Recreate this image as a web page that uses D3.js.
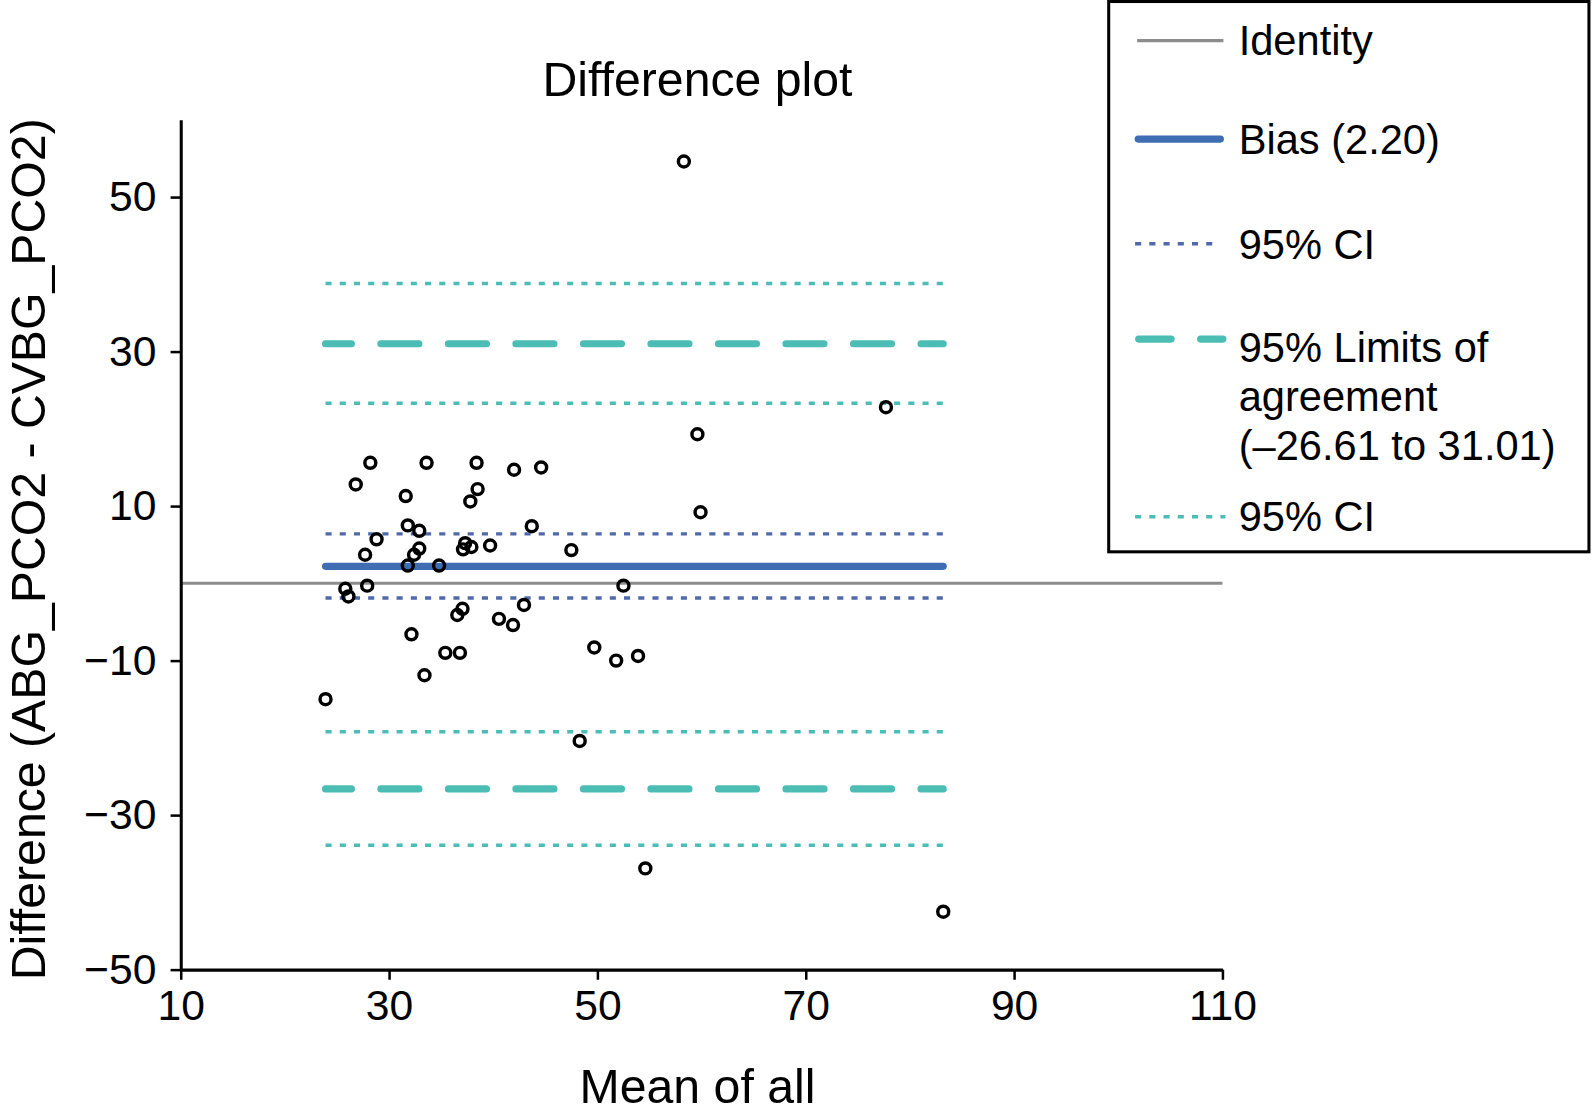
<!DOCTYPE html>
<html>
<head>
<meta charset="utf-8">
<script src="https://cdn.jsdelivr.net/npm/d3@7"></script>
<style>
  html, body { margin: 0; padding: 0; background: #fff; }
  svg text { font-family: "Liberation Sans", Arial, Helvetica, sans-serif; fill: #000; }
</style>
</head>
<body>
<svg id="chart" width="1592" height="1115"></svg>
<script>
// ---- data ----
const meanOfAll = [
  28.2, 33.6, 38.4, 42.0, 44.6, 26.8, 31.6, 38.5, 37.8, 31.8,
  32.9, 43.7, 28.8, 27.7, 32.9, 32.4, 31.8, 34.8, 37.3, 37.1,
  37.9, 39.7, 25.8, 27.9, 26.1, 47.5, 52.5, 37.05, 36.55, 42.95,
  40.55, 41.9, 32.15, 35.4, 36.8, 33.4, 49.7, 51.8, 53.9, 23.9,
  48.3, 54.6, 83.2, 58.3, 77.7, 59.6, 59.9
];
const difference = [
  15.6, 15.6, 15.6, 14.7, 15.0, 12.8, 11.3, 12.2, 10.6, 7.5,
  6.8, 7.4, 5.7, 3.7, 4.5, 3.7, 2.3, 2.3, 5.2, 4.4,
  4.7, 4.9, -0.7, -0.3, -1.7, 4.3, -0.3, -3.3, -4.1, -2.8,
  -4.6, -5.4, -6.6, -9.0, -9.0, -11.9, -8.3, -10.0, -9.4, -15.0,
  -20.4, -36.9, -42.5, 54.6, 22.8, 19.3, 9.2
];
const bias = 2.20;
const biasCI = [6.4, -1.9];
const limitsOfAgreement = [31.01, -26.61];
const limitsCI = [38.8, 23.3, -19.2, -33.9];
const xTicks = [10, 30, 50, 70, 90, 110];
const yTicks = [-50, -30, -10, 10, 30, 50];
const titleText = "Difference plot";
const xLabel = "Mean of all";
const yLabel = "Difference (ABG_PCO2 - CVBG_PCO2)";
const legendItems = [
  { key: "identity", lines: ["Identity"] },
  { key: "bias", lines: ["Bias (2.20)"] },
  { key: "biasCI", lines: ["95% CI"] },
  { key: "loa", lines: ["95% Limits of", "agreement", "(\u201326.61 to 31.01)"] },
  { key: "loaCI", lines: ["95% CI"] }
];

// ---- styles ----
const styles = {
  identity: { stroke: "#8c8c8c", width: 3, dash: null, cap: "butt" },
  bias: { stroke: "#3f6db3", width: 7, dash: null, cap: "round" },
  biasCI: { stroke: "#5168aa", width: 3.4, dash: "6,8", cap: "butt" },
  loa: { stroke: "#4bbdb5", width: 7, dash: "37.5,29", cap: "round" },
  loaCI: { stroke: "#4bbdb5", width: 3.4, dash: "6,8", cap: "butt" }
};

const root = d3.select("#chart");
const svg = root.append("g").attr("transform", "scale(1.0153)");
const x = d3.scaleLinear().domain([10, 110]).range([178, 1204]);
const y = d3.scaleLinear().domain([-50, 60]).range([955, 118]);

const xMin = d3.min(meanOfAll), xMax = d3.max(meanOfAll);

function hline(val, x0, x1, st) {
  const l = svg.append("line")
    .attr("x1", x(x0)).attr("x2", x(x1))
    .attr("y1", y(val)).attr("y2", y(val))
    .attr("stroke", st.stroke).attr("stroke-width", st.width)
    .attr("stroke-linecap", st.cap).attr("fill", "none");
  if (st.dash) l.attr("stroke-dasharray", st.dash);
  return l;
}

// identity line
hline(0, 10, 110, styles.identity);
// limits CI (dotted teal)
limitsCI.forEach(v => hline(v, xMin, xMax, styles.loaCI));
// limits of agreement (dashed teal)
limitsOfAgreement.forEach(v => hline(v, xMin, xMax, styles.loa).attr("stroke-dashoffset", 12));
// bias CI (dotted blue)
biasCI.forEach(v => hline(v, xMin, xMax, styles.biasCI));
// bias
hline(bias, xMin, xMax, styles.bias);

// points
svg.append("g").selectAll("circle")
  .data(meanOfAll.map((m, i) => [m, difference[i]]))
  .join("circle")
  .attr("cx", d => x(d[0])).attr("cy", d => y(d[1]))
  .attr("r", 5.4).attr("fill", "none")
  .attr("stroke", "#000").attr("stroke-width", 3.4);

// axes
const xAxis = svg.append("g").attr("transform", "translate(0,955)")
  .call(d3.axisBottom(x).tickValues(xTicks).tickSize(10).tickPadding(10).tickSizeOuter(0));
const yAxis = svg.append("g").attr("transform", "translate(178,0)")
  .call(d3.axisLeft(y).tickValues(yTicks).tickSize(10).tickPadding(14).tickSizeOuter(0));
[xAxis, yAxis].forEach(g => {
  g.select(".domain").attr("stroke", "#000").attr("stroke-width", 3);
  g.selectAll(".tick line").attr("stroke", "#000").attr("stroke-width", 2.5);
  g.selectAll(".tick text").attr("font-size", 42)
    .attr("font-family", "'Liberation Sans', Arial, sans-serif").attr("fill", "#000");
});

// title and labels
svg.append("text").attr("x", 687).attr("y", 95).attr("text-anchor", "middle")
  .attr("font-size", 47.5).text(titleText);
svg.append("text").attr("x", 687).attr("y", 1086).attr("text-anchor", "middle")
  .attr("font-size", 47.5).text(xLabel);
svg.append("text").attr("transform", "translate(44,541) rotate(-90)")
  .attr("text-anchor", "middle").attr("font-size", 47.5).text(yLabel);

// legend
const lg = svg.append("g");
lg.append("rect").attr("x", 1092).attr("y", 1.5).attr("width", 473).attr("height", 542)
  .attr("fill", "#fff").attr("stroke", "#000").attr("stroke-width", 3);
const symY = [40, 137, 240, 334, 509];
const textY = [[54], [152], [255], [357, 405, 453], [523]];
const symX = { identity: [1120, 1205], bias: [1121, 1202], biasCI: [1118, 1197], loa: [1121.5, 1204.5], loaCI: [1118, 1207] };
legendItems.forEach((it, i) => {
  const st = styles[it.key];
  const sx = symX[it.key];
  const l = lg.append("line").attr("x1", sx[0]).attr("x2", sx[1])
    .attr("y1", symY[i]).attr("y2", symY[i])
    .attr("stroke", st.stroke).attr("stroke-width", st.width)
    .attr("stroke-linecap", st.cap);
  if (st.dash) l.attr("stroke-dasharray", it.key === "loa" ? "32,29" : st.dash);
  it.lines.forEach((t, j) => {
    lg.append("text").attr("x", 1220).attr("y", textY[i][j]).attr("font-size", 41).text(t);
  });
});
</script>
</body>
</html>
